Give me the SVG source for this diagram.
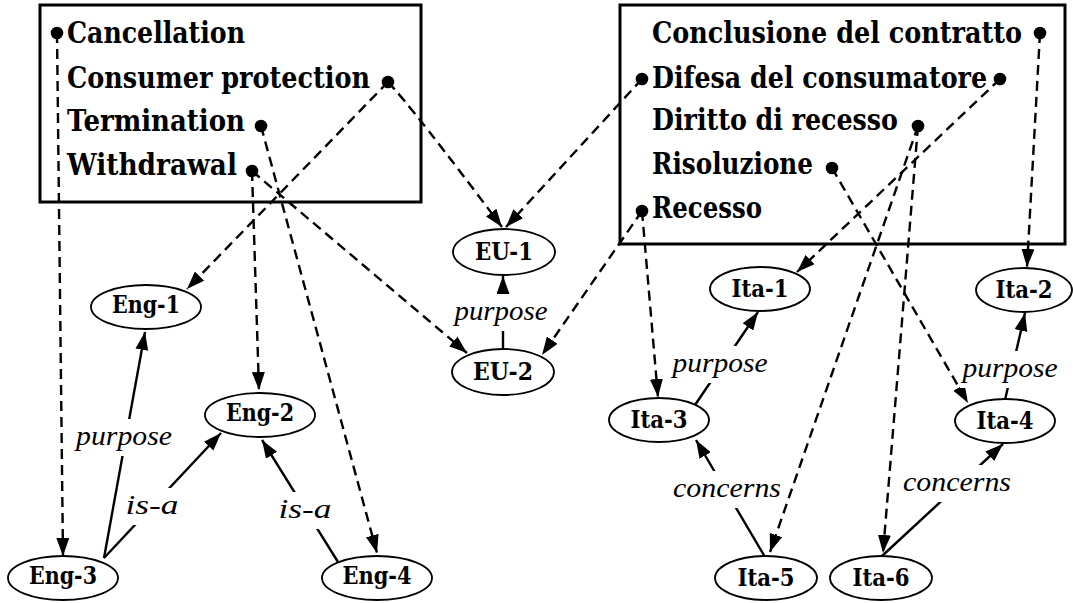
<svg xmlns="http://www.w3.org/2000/svg" width="1073" height="603" viewBox="0 0 1073 603">
<style>
.box{fill:none;stroke:#000;stroke-width:3}
.bt{font-family:"DejaVu Serif","Liberation Serif",serif;font-weight:bold;font-size:29px;fill:#000}
.node ellipse{fill:#fff;stroke:#000;stroke-width:1.8}
.nt{font-family:"DejaVu Serif","Liberation Serif",serif;font-weight:bold;font-size:25px;fill:#000;text-anchor:middle}
.solid{fill:none;stroke:#000;stroke-width:2.4;marker-end:url(#arr)}
.dash{fill:none;stroke:#000;stroke-width:2.4;stroke-dasharray:10 6;marker-end:url(#arr)}
.lt{font-family:"Liberation Serif",serif;font-style:italic;font-size:28px;fill:#000;text-anchor:middle}
.lb{fill:#fff;stroke:none}
.dot{fill:#000}
</style>
<defs>
<marker id="arr" markerUnits="userSpaceOnUse" markerWidth="18" markerHeight="13" refX="18" refY="6.5" orient="auto">
<path d="M0,0 L18,6.5 L0,13 z" fill="#000" stroke="none"/>
</marker>
</defs>
<rect width="1073" height="603" fill="#fff"/>

<g id="box-en">
<rect class="box" x="40" y="5" width="381" height="197"/>
<text class="bt" x="67" y="43" textLength="178" lengthAdjust="spacingAndGlyphs">Cancellation</text>
<text class="bt" x="67" y="88" textLength="303" lengthAdjust="spacingAndGlyphs">Consumer protection</text>
<text class="bt" x="67" y="131" textLength="178" lengthAdjust="spacingAndGlyphs">Termination</text>
<text class="bt" x="67" y="175" textLength="170" lengthAdjust="spacingAndGlyphs">Withdrawal</text>
</g>
<g id="box-it">
<rect class="box" x="620" y="5" width="445" height="239"/>
<text class="bt" x="652" y="43" textLength="370" lengthAdjust="spacingAndGlyphs">Conclusione del contratto</text>
<text class="bt" x="652" y="88" textLength="335" lengthAdjust="spacingAndGlyphs">Difesa del consumatore</text>
<text class="bt" x="652" y="130" textLength="246" lengthAdjust="spacingAndGlyphs">Diritto di recesso</text>
<text class="bt" x="652" y="174" textLength="161" lengthAdjust="spacingAndGlyphs">Risoluzione</text>
<text class="bt" x="652" y="218" textLength="110" lengthAdjust="spacingAndGlyphs">Recesso</text>
</g>

<g id="connectors">
<line class="solid" x1="104" y1="558" x2="145" y2="332"/>
<line class="solid" x1="104" y1="558" x2="221" y2="433"/>
<line class="solid" x1="338" y1="562" x2="262" y2="440"/>
<line class="solid" x1="503" y1="349" x2="503" y2="276"/>
<line class="solid" x1="695" y1="405" x2="758" y2="312"/>
<line class="solid" x1="1005" y1="400" x2="1025" y2="313"/>
<line class="solid" x1="765" y1="557" x2="696" y2="440"/>
<line class="solid" x1="882" y1="556" x2="1003" y2="444"/>

<line class="dash" x1="57" y1="33" x2="63" y2="556"/>
<path class="dash" d="M388,82 Q412,107 502,227"/>
<line class="dash" x1="388" y1="82" x2="187" y2="289"/>
<line class="dash" x1="261" y1="126" x2="377" y2="553"/>
<line class="dash" x1="252" y1="171" x2="259" y2="390"/>
<line class="dash" x1="252" y1="171" x2="467" y2="353"/>
<line class="dash" x1="642" y1="79" x2="506" y2="227"/>
<line class="dash" x1="642" y1="211" x2="542" y2="355"/>
<line class="dash" x1="642" y1="211" x2="658" y2="397"/>
<line class="dash" x1="1000" y1="79" x2="797" y2="272"/>
<line class="dash" x1="918" y1="126" x2="770" y2="552"/>
<line class="dash" x1="918" y1="126" x2="883" y2="553"/>
<line class="dash" x1="832" y1="168" x2="968" y2="403"/>
<line class="dash" x1="1040" y1="33" x2="1027" y2="267"/>

<rect class="lb" x="74" y="419" width="100" height="37"/>
<text class="lt" x="124" y="445" textLength="96" lengthAdjust="spacingAndGlyphs">purpose</text>
<rect class="lb" x="124" y="488" width="56" height="37"/>
<text class="lt" x="152" y="514" textLength="53" lengthAdjust="spacingAndGlyphs">is-a</text>
<rect class="lb" x="276" y="492" width="57" height="37"/>
<text class="lt" x="305" y="518" textLength="53" lengthAdjust="spacingAndGlyphs">is-a</text>
<rect class="lb" x="453" y="294" width="97" height="37"/>
<text class="lt" x="501" y="320" textLength="93" lengthAdjust="spacingAndGlyphs">purpose</text>
<rect class="lb" x="670" y="346" width="99" height="37"/>
<text class="lt" x="720" y="372" textLength="95" lengthAdjust="spacingAndGlyphs">purpose</text>
<rect class="lb" x="960" y="351" width="99" height="37"/>
<text class="lt" x="1010" y="377" textLength="95" lengthAdjust="spacingAndGlyphs">purpose</text>
<rect class="lb" x="671" y="471" width="112" height="37"/>
<text class="lt" x="727" y="497" textLength="108" lengthAdjust="spacingAndGlyphs">concerns</text>
<rect class="lb" x="901" y="465" width="112" height="37"/>
<text class="lt" x="957" y="491" textLength="108" lengthAdjust="spacingAndGlyphs">concerns</text>

<circle class="dot" cx="57" cy="33" r="6.3"/>
<circle class="dot" cx="388" cy="82" r="6.3"/>
<circle class="dot" cx="261" cy="126" r="6.3"/>
<circle class="dot" cx="252" cy="171" r="6.3"/>
<circle class="dot" cx="1040" cy="33" r="6.3"/>
<circle class="dot" cx="642" cy="79" r="6.3"/>
<circle class="dot" cx="1000" cy="79" r="6.3"/>
<circle class="dot" cx="918" cy="126" r="6.3"/>
<circle class="dot" cx="832" cy="168" r="6.3"/>
<circle class="dot" cx="642" cy="211" r="6.3"/>
</g>

<g id="Eng-1" class="node"><ellipse cx="146" cy="307" rx="55" ry="22"/><text class="nt" x="146" y="313" textLength="68" lengthAdjust="spacingAndGlyphs">Eng-1</text></g>
<g id="Eng-2" class="node"><ellipse cx="260" cy="415" rx="55" ry="22"/><text class="nt" x="260" y="421" textLength="68" lengthAdjust="spacingAndGlyphs">Eng-2</text></g>
<g id="Eng-3" class="node"><ellipse cx="63" cy="578" rx="55" ry="22"/><text class="nt" x="63" y="584" textLength="68" lengthAdjust="spacingAndGlyphs">Eng-3</text></g>
<g id="Eng-4" class="node"><ellipse cx="377" cy="578" rx="55" ry="22"/><text class="nt" x="377" y="584" textLength="69" lengthAdjust="spacingAndGlyphs">Eng-4</text></g>
<g id="EU-1" class="node"><ellipse cx="504" cy="252" rx="51" ry="23"/><text class="nt" x="504" y="260" textLength="58" lengthAdjust="spacingAndGlyphs">EU-1</text></g>
<g id="EU-2" class="node"><ellipse cx="503" cy="372" rx="51" ry="23"/><text class="nt" x="503" y="380" textLength="60" lengthAdjust="spacingAndGlyphs">EU-2</text></g>
<g id="Ita-1" class="node"><ellipse cx="760" cy="289" rx="50" ry="22"/><text class="nt" x="760" y="297" textLength="57" lengthAdjust="spacingAndGlyphs">Ita-1</text></g>
<g id="Ita-2" class="node"><ellipse cx="1024" cy="290" rx="48" ry="22"/><text class="nt" x="1024" y="298" textLength="57" lengthAdjust="spacingAndGlyphs">Ita-2</text></g>
<g id="Ita-3" class="node"><ellipse cx="659" cy="420" rx="50" ry="22"/><text class="nt" x="659" y="428" textLength="57" lengthAdjust="spacingAndGlyphs">Ita-3</text></g>
<g id="Ita-4" class="node"><ellipse cx="1005" cy="421" rx="50" ry="22"/><text class="nt" x="1005" y="429" textLength="57" lengthAdjust="spacingAndGlyphs">Ita-4</text></g>
<g id="Ita-5" class="node"><ellipse cx="766" cy="578" rx="51" ry="22"/><text class="nt" x="766" y="586" textLength="57" lengthAdjust="spacingAndGlyphs">Ita-5</text></g>
<g id="Ita-6" class="node"><ellipse cx="881" cy="578" rx="51" ry="22"/><text class="nt" x="881" y="586" textLength="57" lengthAdjust="spacingAndGlyphs">Ita-6</text></g>
</svg>
